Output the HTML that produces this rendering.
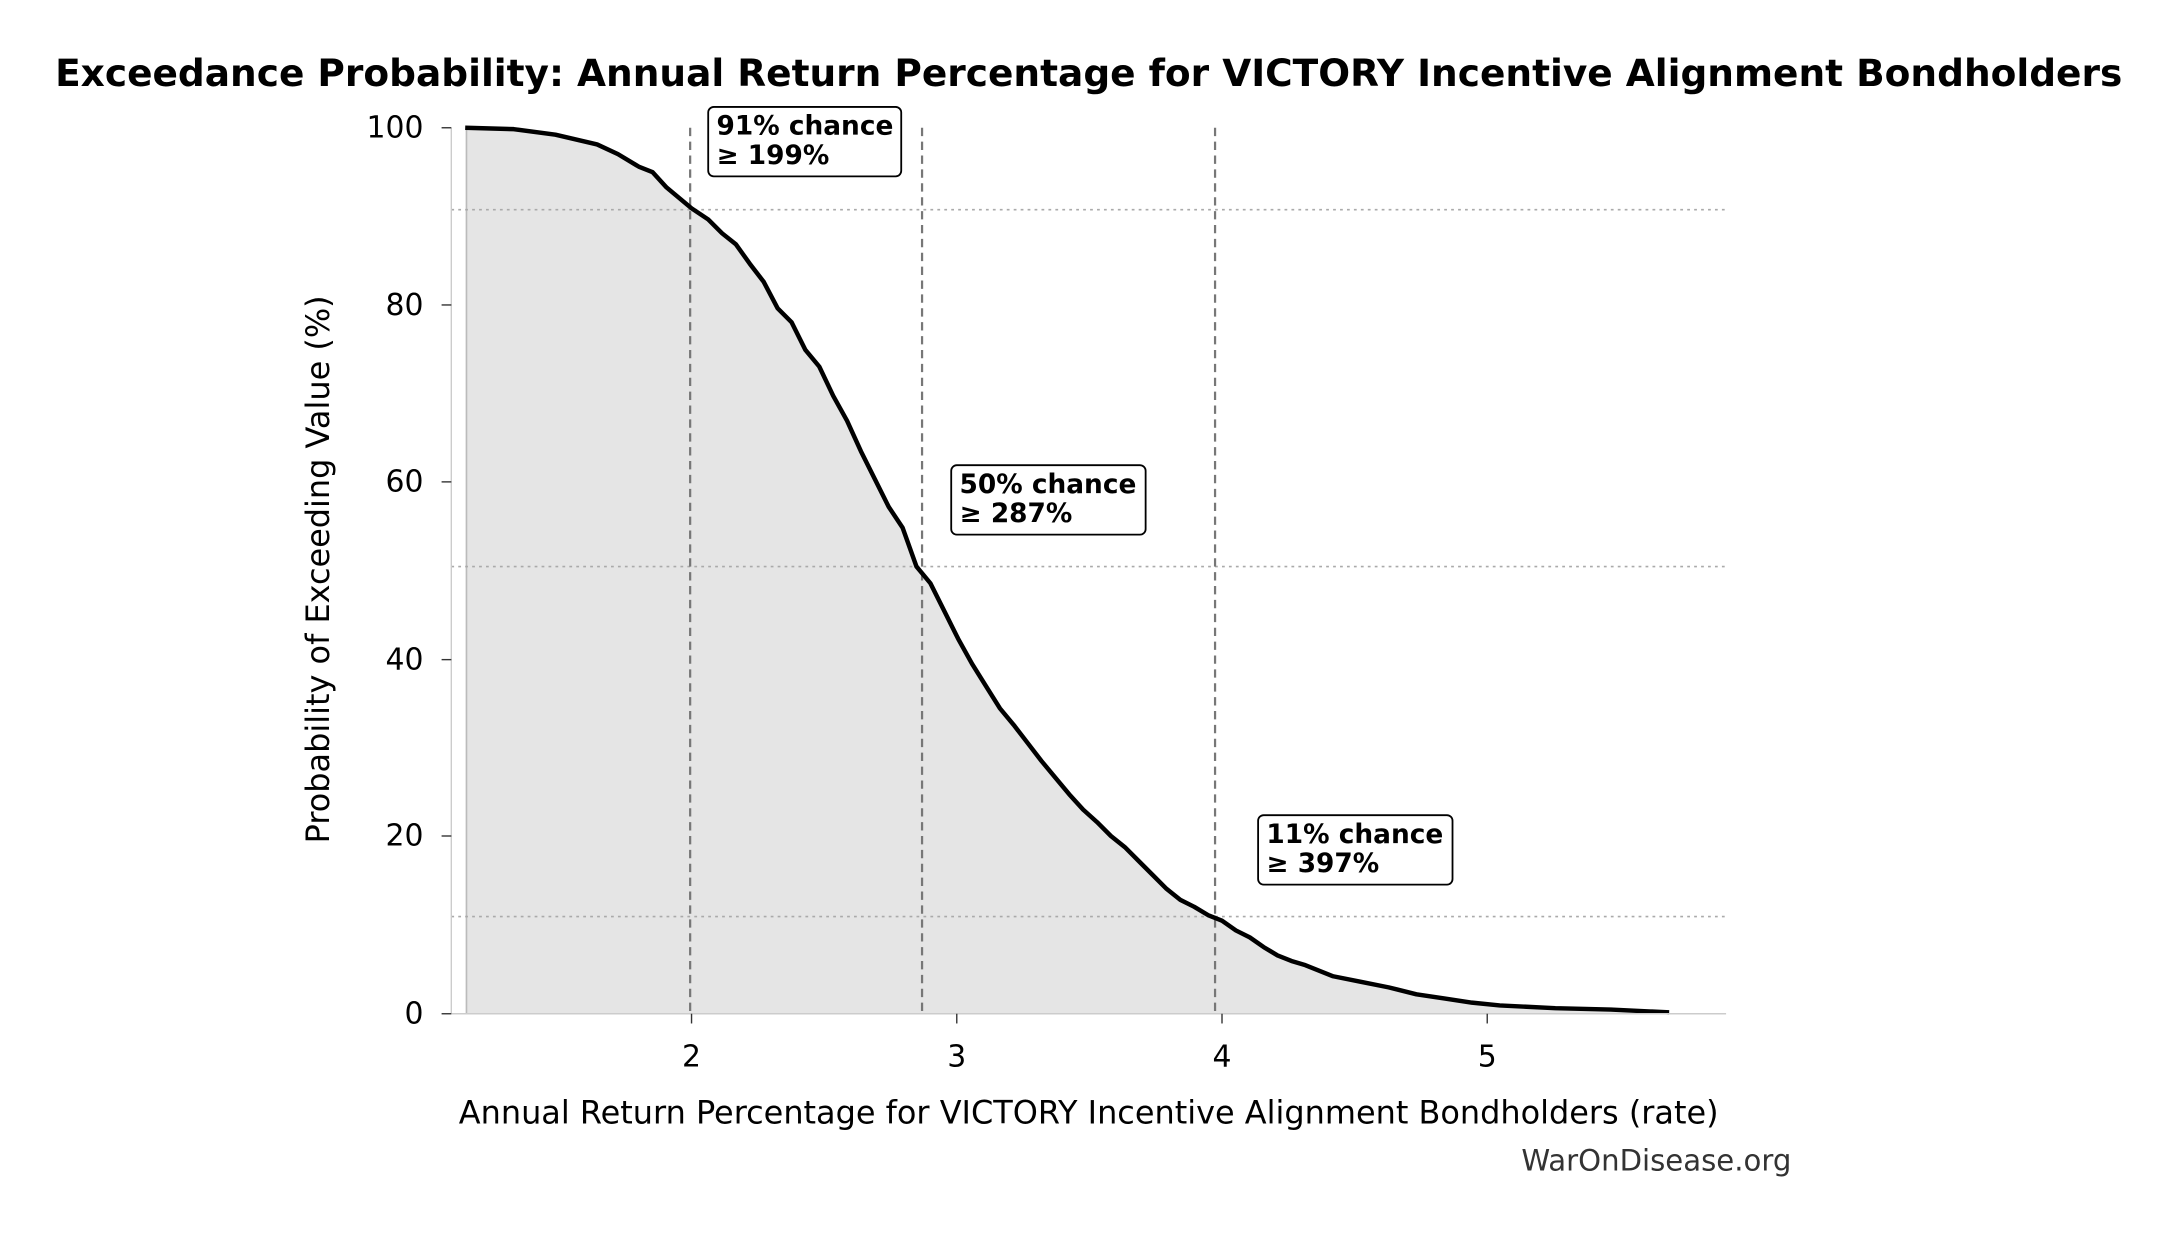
<!DOCTYPE html>
<html><head><meta charset="utf-8"><style>html,body{margin:0;padding:0;background:#fff}svg{display:block}</style></head>
<body>
<svg width="2176" height="1234" viewBox="0 0 1567 888.6" preserveAspectRatio="none" xmlns="http://www.w3.org/2000/svg" font-family="'DejaVu Sans','Liberation Sans',sans-serif">
<rect width="1567" height="889" fill="#fff"/>
<text x="784" y="62" text-anchor="middle" font-size="27" font-weight="bold">Exceedance Probability: Annual Return Percentage for VICTORY Incentive Alignment Bondholders</text>
<path d="M335,730 L335,92 L370,93 L400,97 L430,104 L445,111 L460,120 L470,124 L480,135 L498,150 L510,158 L520,168 L530,176 L540,190 L550,203 L560,222 L570,232 L580,252 L590,264 L600,285 L610,303 L620,325 L630,345 L640,365 L650,380 L660,408 L670,420 L680,440 L690,460 L700,478 L710,494 L720,510 L730,522 L740,535 L750,548 L760,560 L770,572 L780,583 L790,592 L800,602 L810,610 L820,620 L830,630 L840,640 L850,648 L860,653 L870,659 L880,663 L890,670 L900,675 L910,682 L920,688 L930,692 L940,695 L960,703 L980,707 L1000,711 L1020,716 L1040,719 L1060,722 L1080,724 L1120,726 L1160,727 L1202,729 L1202,730 Z" fill="#e5e5e5"/>
<line x1="336" y1="92" x2="336" y2="730" stroke="#bbb" stroke-width="1"/>
<g stroke="#aaa" stroke-width="1.2" stroke-dasharray="2,3">
<line x1="325" y1="151" x2="1243" y2="151"/><line x1="325" y1="408" x2="1243" y2="408"/><line x1="325" y1="660" x2="1243" y2="660"/></g>
<g stroke="#777" stroke-width="1.6" stroke-dasharray="6,4">
<line x1="497" y1="92" x2="497" y2="730"/><line x1="664" y1="92" x2="664" y2="730"/><line x1="875" y1="92" x2="875" y2="730"/></g>
<polyline fill="none" stroke="#000" stroke-width="3.2" stroke-linejoin="round" points="335,92 370,93 400,97 430,104 445,111 460,120 470,124 480,135 498,150 510,158 520,168 530,176 540,190 550,203 560,222 570,232 580,252 590,264 600,285 610,303 620,325 630,345 640,365 650,380 660,408 670,420 680,440 690,460 700,478 710,494 720,510 730,522 740,535 750,548 760,560 770,572 780,583 790,592 800,602 810,610 820,620 830,630 840,640 850,648 860,653 870,659 880,663 890,670 900,675 910,682 920,688 930,692 940,695 960,703 980,707 1000,711 1020,716 1040,719 1060,722 1080,724 1120,726 1160,727 1202,729"/>
<line x1="325" y1="92" x2="325" y2="730" stroke="#ccc" stroke-width="1"/>
<line x1="325" y1="730" x2="1243" y2="730" stroke="#ccc" stroke-width="1"/>
<g font-size="21.5" text-anchor="end">
<text x="305" y="99">100</text><text x="305" y="227">80</text><text x="305" y="354">60</text><text x="305" y="482">40</text><text x="305" y="609">20</text><text x="305" y="737">0</text></g>
<g stroke="#333"><line x1="318" y1="92" x2="325" y2="92"/><line x1="318" y1="219.6" x2="325" y2="219.6"/><line x1="318" y1="347" x2="325" y2="347"/><line x1="318" y1="475" x2="325" y2="475"/><line x1="318" y1="602" x2="325" y2="602"/><line x1="318" y1="730" x2="325" y2="730"/>
<line x1="498" y1="730" x2="498" y2="737"/><line x1="689" y1="730" x2="689" y2="737"/><line x1="880" y1="730" x2="880" y2="737"/><line x1="1071" y1="730" x2="1071" y2="737"/></g>
<g font-size="21.5" text-anchor="middle"><text x="498" y="768">2</text><text x="689" y="768">3</text><text x="880" y="768">4</text><text x="1071" y="768">5</text></g>
<text x="784" y="809" text-anchor="middle" font-size="23">Annual Return Percentage for VICTORY Incentive Alignment Bondholders (rate)</text>
<text transform="translate(237,410) rotate(-90)" text-anchor="middle" font-size="23">Probability of Exceeding Value (%)</text>
<text x="1290" y="843" text-anchor="end" font-size="21" fill="#333">WarOnDisease.org</text>
<g font-size="19" font-weight="bold">
<rect x="510" y="77" width="139" height="50" rx="4" fill="#fff" stroke="#000" stroke-width="1.3"/>
<text x="516" y="97">91% chance</text><text x="516" y="118">≥ 199%</text>
<rect x="685" y="335" width="140" height="50" rx="4" fill="#fff" stroke="#000" stroke-width="1.3"/>
<text x="691" y="355">50% chance</text><text x="691" y="376">≥ 287%</text>
<rect x="906" y="587" width="140" height="50" rx="4" fill="#fff" stroke="#000" stroke-width="1.3"/>
<text x="912" y="607">11% chance</text><text x="912" y="628">≥ 397%</text>
</g>
</svg>
</body></html>
